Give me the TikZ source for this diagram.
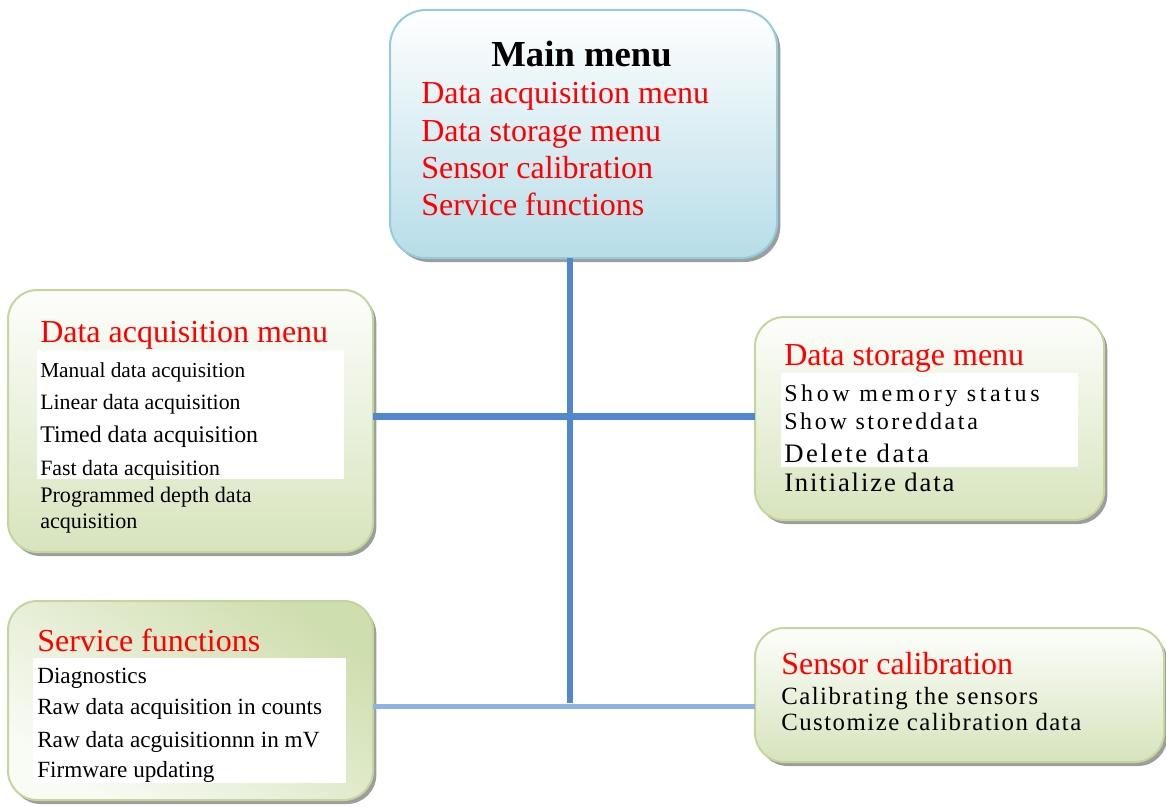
\documentclass[tikz,border=0pt]{standalone}
\usepackage{fontspec}
\setmainfont{Liberation Serif}
\usetikzlibrary{shadows}

\definecolor{menublue}{HTML}{B7DDE8}
\definecolor{menubluedraw}{HTML}{93CDDD}
\definecolor{subgreen}{HTML}{D7E4BD}
\definecolor{subgreendraw}{HTML}{C3D69B}
\definecolor{linkblue}{HTML}{4F88CF}
\definecolor{linklight}{HTML}{8DB3E2}

\begin{document}
\begin{tikzpicture}[x=0.75pt, y=-0.75pt]

% --- Global TikZ Styles for Consistency ---
\tikzset{
    mainbox/.style={rectangle, rounded corners=27pt, inner sep=0pt, outer sep=0pt,
        draw=menubluedraw, line width=1.5pt, top color=white, bottom color=menublue,
        drop shadow={shadow xshift=2.5pt, shadow yshift=-3pt, fill=black!55, opacity=0.7}},
    subbox/.style={rectangle, rounded corners=22pt, inner sep=0pt, outer sep=0pt,
        draw=subgreendraw, line width=1.5pt, top color=white!95!subgreen, bottom color=subgreen,
        drop shadow={shadow xshift=2.5pt, shadow yshift=-3pt, fill=black!55, opacity=0.7}},
    panel/.style={rectangle, fill=white, inner sep=0pt, anchor=north west},
    title/.style={anchor=base, inner sep=0pt, font=\fontsize{27.5}{32}\selectfont\bfseries},
    head/.style={anchor=base west, inner sep=0pt, text=red, font=\fontsize{24}{28}\selectfont},
    item/.style={anchor=base west, inner sep=0pt, font=\fontsize{#1}{20}\selectfont},
    item/.default=17,
    spaced/.style={anchor=base west, inner sep=0pt,
        font=\fontsize{#1}{20}\selectfont\addfontfeature{LetterSpace=\spacing}},
    link/.style={draw=linkblue, line width=4.5pt},
    lowlink/.style={draw=linklight, line width=3.75pt}
}
\useasboundingbox (0,0) rectangle (1166,806);

    % Hoofdmenu
    \node[mainbox, minimum width=290.25pt, minimum height=186pt] (main) at (583.5,134) {};
    \node[title] (maintitle) at (581.5,67) {Main menu};
    \node[head] (m1) at (421,104) {Data acquisition menu};
    \node[head] (m2) at (421,142) {Data storage menu};
    \node[head] (m3) at (421,179) {Sensor calibration};
    \node[head] (m4) at (421,215) {Service functions};

    % Data acquisition
    \node[subbox, minimum width=273.75pt, minimum height=196.5pt] (acq) at (190.5,421) {};
    \node[panel, minimum width=230.25pt, minimum height=96.75pt] (acqpanel) at (37,350) {};
    \node[head] (acqhead) at (40,342) {Data acquisition menu};
    \node[item=16] (a1) at (40,377) {Manual data acquisition};
    \node[item=16.4] (a2) at (40,409) {Linear data acquisition};
    \node[item=17.9] (a3) at (40,442) {Timed data acquisition};
    \node[item=16.4] (a4) at (40,475) {Fast data acquisition};
    \node[item=16.6] (a5) at (40,502) {Programmed depth data};
    \node[item=16.6] (a6) at (40,528) {acquisition};

    % Data storage
    \node[subbox, minimum width=261.75pt, minimum height=152.25pt] (store) at (929.5,418.5) {};
    \node[panel, minimum width=222.75pt, minimum height=70.5pt] (storepanel) at (781,373) {};
    \node[head] (storehead) at (784,365) {Data storage menu};
    \def\spacing{15}
    \node[spaced=18] (s1) at (784,401) {Show memory status};
    \def\spacing{11}
    \node[spaced=18] (s2) at (784,429) {Show storeddata};
    \def\spacing{10}
    \node[spaced=20] (s3) at (784,462) {Delete data};
    \def\spacing{7}
    \node[spaced=20] (s4) at (784,491) {Initialize data};

    % Service functions
    \node[subbox, minimum width=273.75pt, minimum height=149.25pt,
        top color=subgreendraw!80, bottom color=white!85!subgreen, shading angle=-35] (serv) at (190.5,700.5) {};
    \node[panel, minimum width=234.75pt, minimum height=93.75pt] (servpanel) at (33,658) {};
    \node[head] (servhead) at (37,651) {Service functions};
    \node[item=17.4] (f1) at (37,683) {Diagnostics};
    \node[item=17.4] (f2) at (37,714) {Raw data acquisition in counts};
    \node[item=17.4] (f3) at (37,747) {Raw data acguisitionnn in mV};
    \node[item=17.4] (f4) at (37,777) {Firmware updating};

    % Sensor calibration
    \node[subbox, minimum width=306.75pt, minimum height=100.5pt] (calib) at (959.5,695) {};
    \node[head] (calhead) at (781,674) {Sensor calibration};
    \def\spacing{6}
    \node[spaced=18.6] (c1) at (781,704) {Calibrating the sensors};
    \node[spaced=18.6] (c2) at (781,730) {Customize calibration data};

    % Verbindingen
    \coordinate (hub) at (570,416);
    \coordinate (foot) at (570,706);
    \draw[link] (main.south -| hub) -- ([yshift=2pt]foot);
    \draw[link, line width=5.25pt] (hub -| acq.east) -- (hub -| store.west);
    \draw[lowlink] (foot -| serv.east) -- (foot -| calib.west);

\end{tikzpicture}
\end{document}
